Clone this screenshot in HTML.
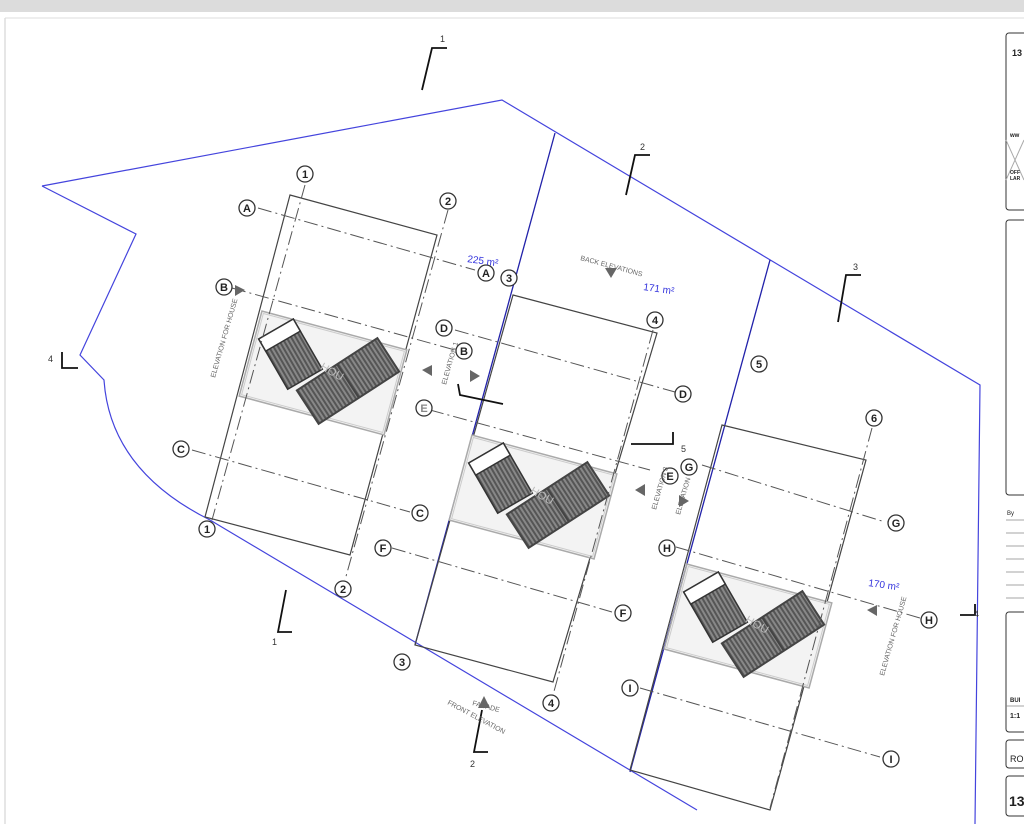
<!DOCTYPE html>
<html><head><meta charset="utf-8"><style>
html,body{margin:0;padding:0;background:#fff;width:1024px;height:824px;overflow:hidden}
svg{display:block}
text{font-family:"Liberation Sans",sans-serif}
</style></head><body>
<svg width="1024" height="824" viewBox="0 0 1024 824" xmlns="http://www.w3.org/2000/svg">
<defs>
<pattern id="hatch" width="4" height="4" patternUnits="userSpaceOnUse"><rect width="4" height="4" fill="#888"/><rect width="2" height="4" fill="#555"/></pattern>
<g id="house">
 <rect x="-75" y="-44" width="150" height="88" fill="#f3f3f3" stroke="#aaa" stroke-width="1.5" transform="rotate(15)"/>
 <rect x="-73" y="-42" width="146" height="84" fill="none" stroke="#ccc" stroke-width="1" transform="rotate(15)"/>
 <g transform="translate(-32,-18) rotate(-30)">
  <rect x="-20" y="-30" width="40" height="58" fill="url(#hatch)" stroke="#333" stroke-width="1.5"/>
  <rect x="-20" y="-30" width="40" height="14" fill="#fff" stroke="#333" stroke-width="1.5"/>
 </g>
 <g transform="translate(25,8) rotate(-33)">
  <rect x="-48" y="-20" width="96" height="40" fill="url(#hatch)" stroke="#444" stroke-width="2"/>
  <line x1="0" y1="-20" x2="0" y2="20" stroke="#444" stroke-width="2"/>
 </g>
 <text x="-5" y="-2" font-size="11" fill="#bbb" transform="rotate(30)">HOU</text>
</g>
</defs>
<rect width="1024" height="824" fill="#fff"/>
<rect x="0" y="0" width="1024" height="12" fill="#dcdcdc"/>
<line x1="5" y1="18" x2="5" y2="824" stroke="#ccc"/>
<line x1="5" y1="18" x2="1024" y2="18" stroke="#ddd"/>

<!-- site boundary -->
<path d="M42,186 L502,100 L980,385 L975,824 M42,186 L136,234 L80,355 L104,380 Q110,470 210,520 L697,810" fill="none" stroke="#4444dd" stroke-width="1.2"/>
<line x1="555" y1="133" x2="415" y2="645" stroke="#2222aa" stroke-width="1.3"/>
<line x1="770" y1="260" x2="630" y2="772" stroke="#2222aa" stroke-width="1.3"/>

<!-- lots -->
<g fill="none" stroke="#444" stroke-width="1.2">
<polygon points="290,195 437,235 350,555 205,517"/>
<polygon points="513,295 657,333 553,682 415,645"/>
<polygon points="722,425 866,460 770,810 630,770"/>
</g>
<!-- house pads -->
<use href="#house" x="323" y="373"/>
<use href="#house" x="533" y="497"/>
<use href="#house" x="748" y="626"/>

<!-- grid lines -->
<g fill="none" stroke="#555" stroke-width="1" stroke-dasharray="14,4,2,4">
<line x1="258" y1="208" x2="475" y2="270"/>
<line x1="232" y1="288" x2="455" y2="350"/>
<line x1="192" y1="450" x2="410" y2="512"/>
<line x1="455" y1="330" x2="675" y2="392"/>
<line x1="430" y1="410" x2="650" y2="470"/>
<line x1="392" y1="548" x2="612" y2="612"/>
<line x1="702" y1="465" x2="885" y2="522"/>
<line x1="676" y1="547" x2="920" y2="618"/>
<line x1="640" y1="688" x2="880" y2="757"/>
<line x1="305" y1="185" x2="212" y2="520"/>
<line x1="448" y1="210" x2="345" y2="580"/>
<line x1="653" y1="330" x2="553" y2="695"/>
<line x1="872" y1="428" x2="770" y2="808"/>
</g>

<!-- bubbles -->
<g font-size="11" font-weight="bold" fill="#222" text-anchor="middle">
<g stroke="#333" stroke-width="1.3" fill="#fff">
<circle cx="305" cy="174" r="8"/><circle cx="448" cy="201" r="8"/><circle cx="247" cy="208" r="8"/><circle cx="486" cy="273" r="8"/><circle cx="509" cy="278" r="8"/>
<circle cx="224" cy="287" r="8"/><circle cx="444" cy="328" r="8"/><circle cx="464" cy="351" r="8"/><circle cx="655" cy="320" r="8"/><circle cx="424" cy="408" r="8"/>
<circle cx="683" cy="394" r="8"/><circle cx="759" cy="364" r="8"/><circle cx="181" cy="449" r="8"/><circle cx="420" cy="513" r="8"/><circle cx="207" cy="529" r="8"/>
<circle cx="343" cy="589" r="8"/><circle cx="383" cy="548" r="8"/><circle cx="623" cy="613" r="8"/><circle cx="402" cy="662" r="8"/><circle cx="551" cy="703" r="8"/>
<circle cx="874" cy="418" r="8"/><circle cx="670" cy="476" r="8"/><circle cx="689" cy="467" r="8"/><circle cx="896" cy="523" r="8"/><circle cx="667" cy="548" r="8"/>
<circle cx="929" cy="620" r="8"/><circle cx="630" cy="688" r="8"/><circle cx="891" cy="759" r="8"/>
</g>
<text x="305" y="178">1</text><text x="448" y="205">2</text><text x="247" y="212">A</text><text x="486" y="277">A</text><text x="509" y="282">3</text>
<text x="224" y="291">B</text><text x="444" y="332">D</text><text x="464" y="355">B</text><text x="655" y="324">4</text><text x="424" y="412" fill="#888">E</text>
<text x="683" y="398">D</text><text x="759" y="368">5</text><text x="181" y="453">C</text><text x="420" y="517">C</text><text x="207" y="533">1</text>
<text x="343" y="593">2</text><text x="383" y="552">F</text><text x="623" y="617">F</text><text x="402" y="666">3</text><text x="551" y="707">4</text>
<text x="874" y="422">6</text><text x="670" y="480">E</text><text x="689" y="471">G</text><text x="896" y="527">G</text><text x="667" y="552">H</text>
<text x="929" y="624">H</text><text x="630" y="692">I</text><text x="891" y="763">I</text>
</g>

<!-- section markers -->
<g fill="none" stroke="#111" stroke-width="1.8">
<path d="M422,90 L432,48 L447,48"/>
<path d="M626,195 L635,155 L650,155"/>
<path d="M838,322 L846,275 L861,275"/>
<path d="M62,352 L62,368 L78,368"/>
<path d="M286,590 L278,632 L292,632"/>
<path d="M482,710 L474,752 L488,752"/>
<path d="M960,615 L975,615 L975,604"/>
<path d="M631,444 L673,444 L673,432"/>
<path d="M458,384 L460,395 L503,404"/>
</g>
<g font-size="9" fill="#333">
<text x="440" y="42">1</text><text x="640" y="150">2</text><text x="853" y="270">3</text><text x="48" y="362">4</text>
<text x="272" y="645">1</text><text x="470" y="767">2</text><text x="974" y="617">4</text><text x="681" y="452">5</text>
</g>
<!-- elevation arrows -->
<g fill="#666">
<polygon points="605,268 617,268 611,278"/><polygon points="235,285 245,290 235,296"/><polygon points="432,365 422,370 432,376"/>
<polygon points="470,370 480,376 470,382"/><polygon points="645,484 635,490 645,496"/><polygon points="679,495 689,501 679,507"/>
<polygon points="484,696 478,708 490,708"/><polygon points="877,605 867,610 877,616"/>
</g>
<g font-size="7" fill="#666">
<text x="580" y="260" transform="rotate(15 580 260)">BACK ELEVATIONS</text>
<text x="215" y="378" transform="rotate(-74 215 378)">ELEVATION FOR HOUSE</text>
<text x="446" y="385" transform="rotate(-74 446 385)">ELEVATION 1</text>
<text x="656" y="510" transform="rotate(-74 656 510)">ELEVATION 3</text>
<text x="680" y="515" transform="rotate(-74 680 515)">ELEVATION</text>
<text x="884" y="676" transform="rotate(-74 884 676)">ELEVATION FOR HOUSE</text>
<text x="447" y="704" transform="rotate(28 447 704)">FRONT ELEVATION</text>
<text x="472" y="705" transform="rotate(15 472 705)">FACADE</text>
</g>
<g font-size="10" fill="#3333dd">
<text x="467" y="262" transform="rotate(8 467 262)">225 m²</text>
<text x="643" y="290" transform="rotate(8 643 290)">171 m²</text>
<text x="868" y="586" transform="rotate(8 868 586)">170 m²</text>
</g>

<!-- title block -->
<g fill="none" stroke="#333" stroke-width="1">
<rect x="1006" y="33" width="30" height="177" rx="3"/>
<rect x="1006" y="220" width="30" height="275" rx="3"/>
<rect x="1006" y="612" width="30" height="120" rx="3"/>
<rect x="1006" y="740" width="30" height="28" rx="3"/>
<rect x="1006" y="776" width="30" height="40" rx="3"/>
<line x1="1006" y1="140" x2="1024" y2="180" stroke="#aaa"/><line x1="1006" y1="180" x2="1024" y2="140" stroke="#aaa"/>
</g>
<g stroke="#888" stroke-width="0.8">
<line x1="1006" y1="520" x2="1024" y2="520"/><line x1="1006" y1="533" x2="1024" y2="533"/><line x1="1006" y1="546" x2="1024" y2="546"/>
<line x1="1006" y1="559" x2="1024" y2="559"/><line x1="1006" y1="572" x2="1024" y2="572"/><line x1="1006" y1="585" x2="1024" y2="585"/><line x1="1006" y1="598" x2="1024" y2="598"/>
<line x1="1006" y1="706" x2="1024" y2="706"/>
</g>
<g fill="#222" font-weight="bold">
<text x="1012" y="56" font-size="9">13</text>
<text x="1010" y="137" font-size="6">ww</text>
<text x="1010" y="174" font-size="5">OFF</text><text x="1010" y="180" font-size="5">LAR</text>
<text x="1010" y="702" font-size="6">BUI</text><text x="1010" y="718" font-size="7">1:1</text>
<text x="1010" y="762" font-size="9" font-weight="normal">RO</text>
<text x="1009" y="806" font-size="14">13</text>
<text x="1007" y="515" font-size="6" font-weight="normal">By</text>
</g>
</svg>
</body></html>
